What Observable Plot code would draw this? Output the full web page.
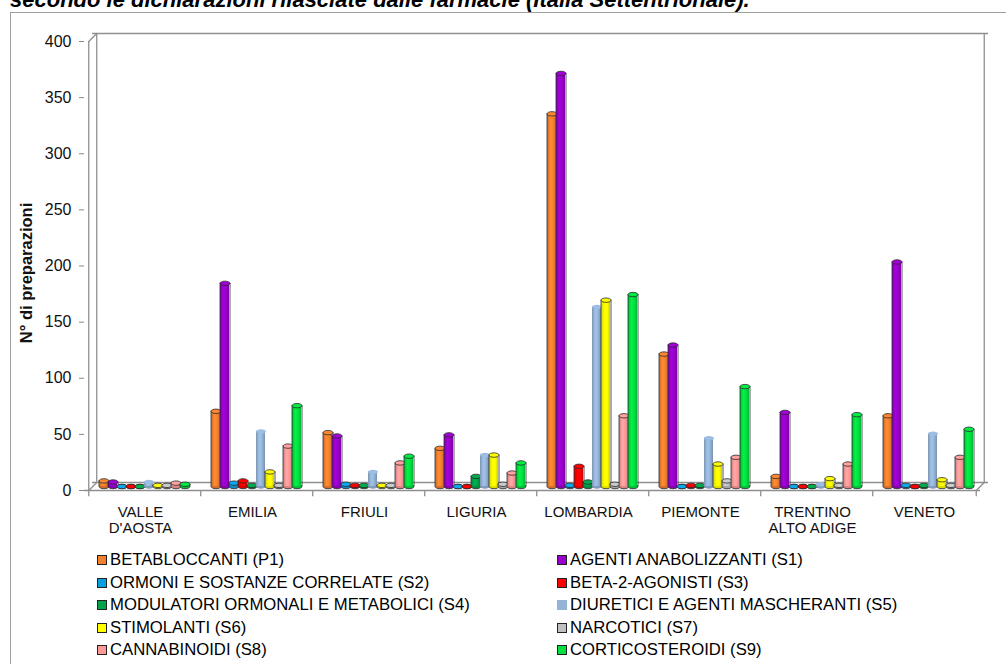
<!DOCTYPE html>
<html>
<head>
<meta charset="utf-8">
<script src="https://cdn.jsdelivr.net/npm/d3@7"></script>
<script src="https://cdn.jsdelivr.net/npm/@observablehq/plot@0.6"></script>
<style>
  body { margin: 0; background: #fff; font-family: Arial, "Liberation Sans", sans-serif; }
  #page { position: relative; width: 1006px; height: 664px; overflow: hidden; background: #fff; }
  #box { position: absolute; left: 10px; top: 12px; width: 1010px; height: 700px; border: 1px solid #a0a0a0; box-sizing: border-box; }
  #title { position: absolute; left: 10px; top: -10.6px; font: italic bold 22px Arial, "Liberation Sans", sans-serif; line-height: 22px; white-space: nowrap; color: #000; }
  #chart { position: absolute; left: 0; top: 0; }
  #legend { position: absolute; left: 97px; top: 549px; display: grid; grid-template-columns: 460px auto; grid-auto-rows: 22.5px; font-size: 16.7px; color: #000; }
  .item { display: flex; align-items: center; white-space: nowrap; }
  .sw { width: 10px; height: 10px; box-sizing: border-box; border: 1px solid #222; margin-right: 3px; }
  g[aria-label="y-axis label"] text { font-weight: bold; font-size: 16.5px; }
</style>
</head>
<body>
<div id="page">
  <div id="box"></div>
  <div id="title">secondo le dichiarazioni rilasciate dalle farmacie (Italia Settentrionale).</div>
  <div id="chart"></div>
  <div id="legend"></div>
</div>
<script>
// Regions (x groups) and doping classes (bars within each group)
const regions = ["VALLE\nD'AOSTA", "EMILIA", "FRIULI", "LIGURIA", "LOMBARDIA", "PIEMONTE", "TRENTINO\nALTO ADIGE", "VENETO"];
const series = [
  "BETABLOCCANTI (P1)",
  "AGENTI ANABOLIZZANTI (S1)",
  "ORMONI E SOSTANZE CORRELATE (S2)",
  "BETA-2-AGONISTI (S3)",
  "MODULATORI ORMONALI E METABOLICI (S4)",
  "DIURETICI E AGENTI MASCHERANTI (S5)",
  "STIMOLANTI (S6)",
  "NARCOTICI (S7)",
  "CANNABINOIDI (S8)",
  "CORTICOSTEROIDI (S9)"
];
const colors = ["#f3802f", "#9900cc", "#0aa0e0", "#ff0000", "#00a24a", "#95b3d7", "#ffff00", "#c0c0c0", "#ff9999", "#00e040"];

// Number of preparations per region (same order as regions)
const betabloccanti    = [5, 67, 48, 34, 332, 118, 9, 63];
const anabolizzanti    = [4, 181, 45, 46, 368, 126, 66, 200];
const ormoni           = [0, 3, 2, 0, 1, 0, 0, 1];
const beta2agonisti    = [0, 5, 1, 0, 18, 1, 0, 0];
const modulatori       = [0, 1, 1, 9, 4, 1, 0, 1];
const diuretici        = [4, 49, 13, 28, 160, 43, 2, 47];
const stimolanti       = [1, 13, 1, 28, 166, 20, 7, 6];
const narcotici        = [1, 1, 1, 2, 2, 5, 1, 1];
const cannabinoidi     = [3, 36, 21, 12, 63, 26, 20, 26];
const corticosteroidi  = [2, 72, 27, 21, 171, 89, 64, 51];

const yTicks = [0, 50, 100, 150, 200, 250, 300, 350, 400];

const valuesBySeries = [betabloccanti, anabolizzanti, ormoni, beta2agonisti, modulatori,
  diuretici, stimolanti, narcotici, cannabinoidi, corticosteroidi];

const data = series.flatMap((s, k) =>
  regions.map((r, i) => ({region: r, series: s, value: valuesBySeries[k][i]})));

// Flat ellipse used for the cylinder caps
const ellipse = {
  draw(ctx) {
    const rx = 5, ry = 2.2, c = 0.5523;
    ctx.moveTo(-rx, 0);
    ctx.bezierCurveTo(-rx, -ry * c, -rx * c, -ry, 0, -ry);
    ctx.bezierCurveTo(rx * c, -ry, rx, -ry * c, rx, 0);
    ctx.bezierCurveTo(rx, ry * c, rx * c, ry, 0, ry);
    ctx.bezierCurveTo(-rx * c, ry, -rx, ry * c, -rx, 0);
    ctx.closePath();
  }
};
// Plain line segment for the short oblique edges of the box
const segment = { draw(ctx, l) { ctx.moveTo(0, 0); ctx.lineTo(0, -l); } };

const wall = {stroke: "#8f8f8f", strokeWidth: 1.3};
const first = [{region: regions[0], series: series[0]}];
const last = [{region: regions[regions.length - 1], series: series[series.length - 1]}];
const depth = 8;      // depth of the 3D box
const half = 11.25;   // distance from the outer band center to the group edge

const cylinders = series.flatMap((s, k) => {
  const rows = data.filter(d => d.series === s);
  const edge = k === 5 ? "none" : "#2b2b2b";
  const pos = {fx: "region", x: "series", dx: 4, dy: -4};
  return [
    Plot.dot(rows, {...pos, y: 0, symbol: ellipse, fill: d3.color(colors[k]).darker(0.4).formatHex(), stroke: edge, strokeWidth: 0.8}),
    Plot.barY(rows, {...pos, y: "value", fill: `url(#cyl${k})`}),
    Plot.ruleX(rows, {...pos, y1: 0, y2: "value", dx: -1, stroke: edge, strokeWidth: 0.8}),
    Plot.ruleX(rows, {...pos, y1: 0, y2: "value", dx: 9, stroke: edge, strokeWidth: 0.8}),
    Plot.dot(rows, {...pos, y: "value", symbol: ellipse, fill: d3.color(colors[k]).brighter(0.15).formatHex(), stroke: edge, strokeWidth: 0.8})
  ];
});

const chart = Plot.plot({
  width: 1006,
  height: 540,
  marginLeft: 82,
  marginRight: 24,
  marginTop: 41,
  marginBottom: 50,
  style: {fontFamily: "Arial, 'Liberation Sans', sans-serif", fontSize: "15px", color: "#111", background: "transparent"},
  fx: {domain: regions, padding: 0, label: null},
  x: {domain: series, paddingInner: 0, paddingOuter: 0.625, axis: null},
  y: {domain: [0, 400]},
  marks: [
    // floor and back wall
    Plot.ruleY([0], wall),
    Plot.ruleY([0], {...wall, dx: depth, dy: -depth}),
    Plot.ruleY([400], {...wall, dx: depth, dy: -depth}),
    Plot.ruleX(first, {...wall, fx: "region", x: "series", y1: 0, y2: 400, dx: -half}),
    Plot.ruleX(first, {...wall, fx: "region", x: "series", y1: 0, y2: 400, dx: -half + depth, dy: -depth}),
    Plot.ruleX(last, {...wall, fx: "region", x: "series", y1: 0, y2: 400, dx: half + depth, dy: -depth}),
    Plot.vector(first, {...wall, fx: "region", x: "series", y: 0, dx: -half, length: depth * Math.SQRT2, rotate: 45, anchor: "start", shape: segment}),
    Plot.vector(first, {...wall, fx: "region", x: "series", y: 400, dx: -half, length: depth * Math.SQRT2, rotate: 45, anchor: "start", shape: segment}),
    Plot.vector(last, {...wall, fx: "region", x: "series", y: 0, dx: half, length: depth * Math.SQRT2, rotate: 45, anchor: "start", shape: segment}),
    // group separators below the floor
    Plot.ruleX(regions.map(r => ({region: r, series: series[0]})), {...wall, fx: "region", x: "series", y1: 0, y2: -5.5, dx: -half}),
    Plot.ruleX(last, {...wall, fx: "region", x: "series", y1: 0, y2: -5.5, dx: half}),
    ...cylinders,
    Plot.axisY({ticks: yTicks, tickSize: 5, tickPadding: 8, fontSize: 16, stroke: "#888", label: "N° di preparazioni", labelAnchor: "center", labelOffset: 64, labelArrow: false}),
    Plot.axisFx({anchor: "bottom", tickSize: 0, tickPadding: 14, lineHeight: 1.13, label: null})
  ]
});

// Horizontal shading that turns the bars into cylinders
const defs = d3.select(chart).insert("defs", ":first-child");
colors.forEach((c, k) => {
  const g = defs.append("linearGradient").attr("id", `cyl${k}`)
    .attr("x1", 0).attr("x2", 1).attr("y1", 0).attr("y2", 0);
  const base = d3.color(c);
  [[0, base.darker(0.5)], [0.4, base.brighter(0.25)], [0.7, base], [1, base.darker(0.6)]]
    .forEach(([o, col]) => g.append("stop").attr("offset", o).attr("stop-color", col.formatHex()));
});

// Nudge the vertical axis title a little lower
d3.select(chart).select('g[aria-label="y-axis label"]')
  .attr("transform", function() { return `${this.getAttribute("transform") || ""} translate(0,7)`; });

document.getElementById("chart").appendChild(chart);

// Legend, two columns
const legend = d3.select("#legend");
series.forEach((s, k) => {
  const item = legend.append("div").attr("class", "item");
  item.append("span").attr("class", "sw")
    .style("background", colors[k])
    .style("border-color", k === 5 ? colors[k] : "#222");
  item.append("span").text(s);
});
</script>
</body>
</html>
